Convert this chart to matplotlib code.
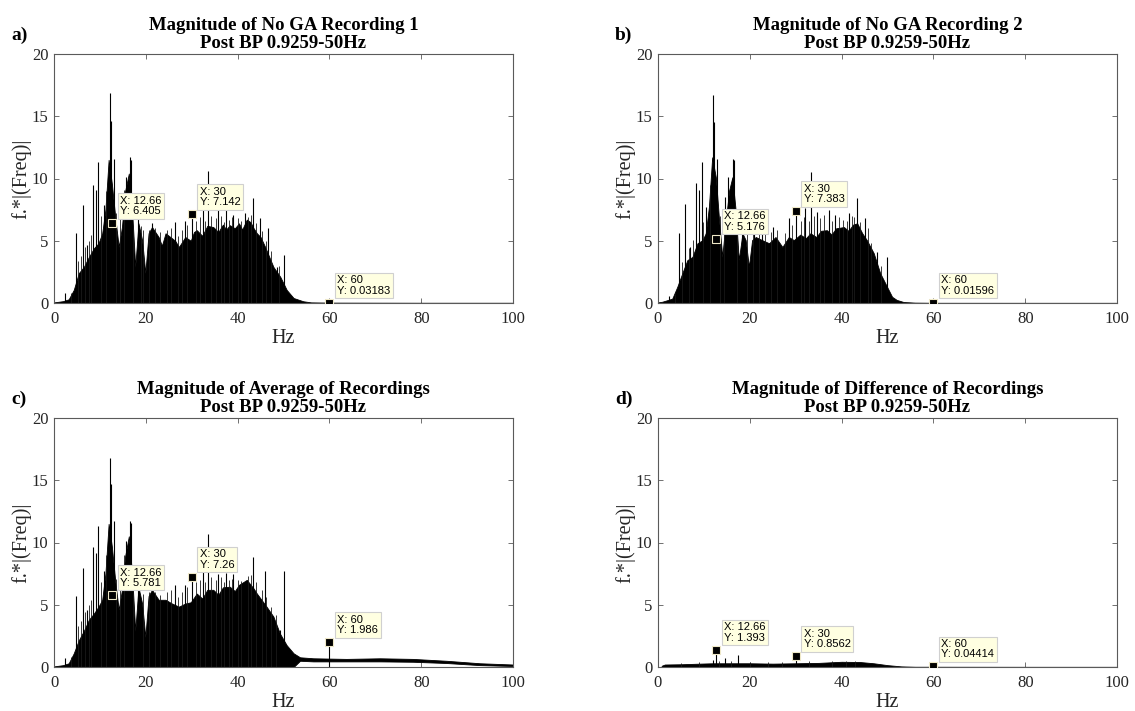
import matplotlib
matplotlib.use('Agg')
import matplotlib.pyplot as plt

plt.rcParams['font.family'] = ['Liberation Serif', 'DejaVu Serif']

# datatip frequencies, shared by all four panels
TIP_HZ = [12.66, 30, 60]

# --- a) recording 1 ---
A_ENV_HZ = [0, 1.0, 2.0, 3.2, 4.3, 5.4, 6.5, 7.6, 8.7, 9.7, 10.5, 11.2, 11.9, 12.6, 13.4, 14.1,
            14.8, 15.5, 16.3, 17.0, 17.7, 18.4, 19.2, 19.9, 20.6, 21.35, 22.8, 23.5, 24.3, 25.7,
            26.4, 27.2, 28.6, 29.8, 30.5, 31.1, 32.3, 33.4, 34.7, 35.8, 36.8, 37.5, 38.3, 39.4,
            40.3, 41.0, 42.0, 42.8, 43.5, 44.2, 45.0, 46.0, 47.8, 49.3, 50.7, 52.2, 54.3, 56,
            60, 80, 100]
A_ENV_MAG = [0.05, 0.1, 0.15, 0.3, 1.05, 2.4, 2.9, 3.7, 4.4, 4.8, 5.6, 7.5, 11.5, 9.6, 6.7, 4.5,
             6.1, 9.0, 10.4, 7.5, 2.9, 6.4, 5.05, 2.4, 5.6, 6.1, 5.3, 4.6, 5.6, 5.2,
             5.0, 4.5, 5.3, 5.0, 5.7, 5.85, 5.4, 6.2, 6.1, 5.7, 6.3, 5.9, 6.25, 6.0,
             6.4, 5.9, 6.7, 6.5, 6.0, 5.6, 5.3, 4.5, 2.9, 2.1, 1.05, 0.4, 0.14, 0.05,
             0.03, 0.02, 0.02]
A_SPIKE_HZ = [2.47, 4.86, 6.25, 7.2, 8.4, 9.1, 9.66, 10.9, 12.13, 12.5, 13.15, 15.7, 16.5, 16.8,
              18.3, 21.35, 26.4, 28.5, 30, 32.4, 33.5, 35.8, 37.5, 39.1, 41.7, 43.4, 44.9, 46.7,
              48.5, 50.1]
A_SPIKE_MAG = [0.78, 5.65, 7.86, 4.65, 9.5, 9.1, 11.3, 7.9, 16.85, 14.6, 11.6, 10.1, 11.7, 11.5,
               6.8, 6.4, 6.5, 6.55, 7.142, 7.7, 10.6, 7.45, 7.45, 7.1, 7.2, 8.4, 6.8, 6.0,
               2.9, 3.85]
A_FINE_HZ = [3.6, 5.3, 5.8, 6.8, 7.7, 8.0, 10.2, 11.4, 13.6, 14.4, 15.2, 17.3, 19.0, 19.4,
             20.8, 22.0, 23.2, 24.6, 25.5, 27.0, 27.8, 29.0, 31.0, 31.7, 32.9, 34.2, 35.2, 36.3,
             37.0, 38.2, 38.8, 40.0, 40.8, 42.3, 42.9, 44.0, 45.4, 46.2, 47.2, 49.0]
A_FINE_MAG = [0.8, 3.4, 3.8, 4.5, 5.0, 5.5, 7.0, 9.0, 7.2, 8.1, 9.1, 6.0, 6.2, 5.9,
              5.9, 6.0, 5.7, 5.9, 6.0, 5.4, 5.9, 6.3, 6.6, 6.9, 6.6, 7.0, 6.8, 7.0,
              6.5, 6.7, 6.9, 6.8, 6.6, 6.9, 7.1, 6.4, 5.8, 5.0, 4.2, 3.0]
A_TIP_MAG = [6.405, 7.142, 0.03183]

# --- b) recording 2 ---
B_ENV_HZ = [0, 0.9, 3.1, 4.2, 5.3, 6.4, 7.5, 8.6, 9.7, 10.4, 11.1, 11.8, 12.6, 13.3, 14.0, 14.7,
            15.5, 16.2, 16.9, 17.6, 18.4, 19.1, 19.8, 20.5, 21.3, 22.7, 24.2, 25.6, 27.1, 28.5,
            29.6, 31.0, 32.2, 33.2, 34.5, 35.5, 36.8, 37.8, 38.8, 40.5, 41.5, 42.5, 43.4, 44.5,
            45.5, 47.0, 48.4, 49.9, 51.0, 52.0, 53.5, 56, 60, 80, 100]
B_ENV_MAG = [0.05, 0.1, 0.35, 1.3, 2.4, 3.45, 3.7, 4.8, 5.05, 5.6, 7.75, 11.7, 10.1, 6.7, 3.7, 6.4,
             9.05, 10.1, 7.5, 3.45, 5.6, 5.05, 2.9, 5.05, 5.3, 5.05, 4.8, 5.3, 4.5, 5.3,
             5.05, 5.5, 5.2, 5.6, 5.3, 5.8, 5.85, 5.5, 6.0, 6.1, 5.8, 6.3, 6.4, 5.6,
             5.05, 4.0, 2.4, 1.3, 0.5, 0.25, 0.08, 0.03, 0.016, 0.015, 0.015]
B_SPIKE_HZ = [2.3, 4.57, 5.88, 6.9, 8.2, 8.9, 9.5, 10.5, 11.98, 12.27, 12.9, 14.7, 15.25, 16.3,
              16.5, 18.4, 21.0, 22.7, 25.0, 28.5, 30, 32.1, 33.3, 34.6, 37.2, 38.6, 41.7, 43.3,
              45.2, 47.7, 49.9]
B_SPIKE_MAG = [0.6, 5.65, 7.95, 4.5, 9.6, 9.1, 11.3, 7.7, 16.7, 14.5, 11.6, 8.5, 10.1, 11.6,
               11.45, 6.0, 5.9, 5.6, 6.1, 6.8, 7.383, 7.6, 10.55, 7.3, 7.45, 7.05, 7.2, 8.4,
               6.8, 4.1, 3.7]
B_FINE_HZ = [3.6, 5.2, 6.7, 7.7, 9.9, 11.3, 13.5, 14.3, 17.2, 19.3, 20.8, 22.1, 23.4, 24.6,
             26.0, 27.6, 29.2, 31.2, 31.8, 33.0, 34.0, 35.3, 36.2, 37.8, 39.4, 40.3, 41.2, 42.3,
             42.8, 44.1, 45.8, 46.5, 48.5]
B_FINE_MAG = [0.7, 3.3, 4.4, 5.1, 6.5, 9.5, 7.0, 7.5, 5.5, 5.8, 5.6, 5.8, 5.9, 5.7,
              5.9, 5.6, 6.3, 6.6, 6.9, 6.6, 7.0, 6.8, 7.1, 6.6, 6.9, 6.7, 6.6, 7.0,
              6.9, 6.5, 6.0, 4.8, 3.0]
B_TIP_MAG = [5.176, 7.383, 0.01596]

# --- c) average ---
C_ENV_HZ = [0, 1, 2, 3.2, 4.3, 5.4, 6.5, 7.6, 8.7, 9.7, 10.5, 11.2, 11.9, 12.6, 13.4, 14.1,
            14.8, 15.5, 16.3, 17.0, 17.7, 18.4, 19.2, 19.9, 20.6, 21.35, 22.8, 24.3, 25.7, 27.2,
            28.6, 29.8, 31.1, 32.3, 33.4, 34.7, 35.8, 36.8, 38.3, 39.4, 40.3, 42.0, 43.5, 44.2,
            46.3, 47.8, 49.2, 50.7, 52.2, 53.6, 56.5, 63.7, 71.0, 78.2, 85.5, 92.8, 100]
C_ENV_MAG = [0.05, 0.1, 0.15, 0.3, 1.1, 2.15, 2.9, 3.8, 4.3, 4.85, 5.4, 7.5, 11.5, 9.7, 6.7, 4.6,
             6.2, 8.9, 10.5, 7.5, 2.9, 6.4, 5.1, 2.4, 5.7, 6.2, 5.4, 5.4, 5.1, 4.85,
             5.1, 5.2, 5.9, 5.5, 6.2, 6.2, 5.8, 6.4, 6.45, 6.1, 6.6, 7.0, 6.3, 5.9,
             4.85, 4.05, 2.7, 1.75, 1.1, 0.78, 0.7, 0.65, 0.7, 0.65, 0.5, 0.3, 0.2]
C_ENV_LOW = [0, 0, 0, 0, 0, 0, 0, 0, 0, 0, 0, 0, 0, 0, 0, 0,
             0, 0, 0, 0, 0, 0, 0, 0, 0, 0, 0, 0, 0, 0,
             0, 0, 0, 0, 0, 0, 0, 0, 0, 0, 0, 0, 0, 0,
             0, 0, 0, 0, 0, 0.5, 0.45, 0.45, 0.45, 0.42, 0.32, 0.15, 0.08]
C_SPIKE_HZ = [2.47, 4.86, 6.25, 7.2, 8.4, 9.1, 9.66, 10.9, 12.13, 12.5, 13.15, 15.7, 16.5, 16.8,
              18.3, 21.35, 26.4, 28.5, 30, 32.4, 33.5, 35.7, 37.4, 39.1, 43.4, 45.9, 49.2, 50.2, 60]
C_SPIKE_MAG = [0.75, 5.7, 7.95, 4.6, 9.65, 9.15, 11.3, 7.75, 16.8, 14.7, 11.7, 10.15, 11.7, 11.55,
               6.3, 6.3, 6.55, 6.55, 7.26, 7.7, 10.7, 7.5, 7.55, 7.5, 8.8, 7.7, 3.0, 7.7, 1.986]
C_FINE_HZ = [3.6, 5.3, 5.8, 6.8, 7.7, 8.0, 10.2, 11.4, 13.6, 14.4, 15.2, 17.3, 19.4, 20.8,
             22.0, 23.2, 24.6, 25.5, 27.0, 27.8, 29.0, 31.0, 31.7, 32.9, 34.2, 35.2, 36.3, 37.0,
             38.2, 38.8, 40.0, 40.8, 42.3, 42.9, 44.0, 45.4, 46.2, 47.2, 48.3]
C_FINE_MAG = [0.8, 3.3, 3.7, 4.4, 5.0, 5.4, 6.8, 9.0, 7.1, 8.0, 9.0, 5.9, 5.9, 6.0,
              6.0, 5.8, 6.0, 6.2, 5.6, 6.0, 6.4, 6.8, 7.0, 6.8, 7.2, 7.0, 7.2, 6.8,
              7.0, 7.1, 7.0, 6.9, 7.3, 7.4, 6.8, 6.2, 5.6, 4.8, 4.2]
C_TIP_MAG = [5.781, 7.26, 1.986]

# --- d) difference ---
D_ENV_HZ = [0.8, 1.5, 5, 10, 12, 15, 20, 25, 30, 35, 40, 44, 47, 50, 53, 56, 60, 80, 100]
D_ENV_MAG = [0.1, 0.2, 0.22, 0.28, 0.3, 0.3, 0.3, 0.27, 0.3, 0.33, 0.42, 0.4, 0.3, 0.15, 0.05,
             0.02, 0.02, 0.015, 0.015]
D_SPIKE_HZ = [11.9, 12.66, 14.6, 17.5, 30, 60]
D_SPIKE_MAG = [0.55, 1.393, 0.75, 1.0, 0.8562, 0.04414]
D_FINE_HZ = [5, 9, 13.3, 16, 20, 24, 27, 33, 38, 41, 43]
D_FINE_MAG = [0.35, 0.4, 0.5, 0.45, 0.4, 0.38, 0.4, 0.45, 0.5, 0.5, 0.48]
D_TIP_MAG = [1.393, 0.8562, 0.04414]

SUBTITLE = 'Post BP 0.9259-50Hz'
TITLES = ['Magnitude of No GA Recording 1', 'Magnitude of No GA Recording 2',
          'Magnitude of Average of Recordings', 'Magnitude of Difference of Recordings']
LETTERS = ['a)', 'b)', 'c)', 'd)']

W, H = 1135, 711
# axes boxes in pixels: left, top
BOXES = [(54, 54), (658, 54), (54, 418), (658, 418)]
AX_W, AX_H = 459, 249

panels = [
    (A_ENV_HZ, A_ENV_MAG, None, A_SPIKE_HZ, A_SPIKE_MAG, A_FINE_HZ, A_FINE_MAG, A_TIP_MAG),
    (B_ENV_HZ, B_ENV_MAG, None, B_SPIKE_HZ, B_SPIKE_MAG, B_FINE_HZ, B_FINE_MAG, B_TIP_MAG),
    (C_ENV_HZ, C_ENV_MAG, C_ENV_LOW, C_SPIKE_HZ, C_SPIKE_MAG, C_FINE_HZ, C_FINE_MAG, C_TIP_MAG),
    (D_ENV_HZ, D_ENV_MAG, None, D_SPIKE_HZ, D_SPIKE_MAG, D_FINE_HZ, D_FINE_MAG, D_TIP_MAG),
]

fig = plt.figure(figsize=(W / 100, H / 100), dpi=100)
edge = '#5a5a5a'
txt = '#262626'

for i, (env_hz, env_mag, env_low, sp_hz, sp_mag, fn_hz, fn_mag, tip_mag) in enumerate(panels):
    left, top = BOXES[i]
    ax = fig.add_axes([left / W, 1 - (top + AX_H) / H, AX_W / W, AX_H / H])

    low = env_low if env_low is not None else 0
    ax.fill_between(env_hz, low, env_mag, color='black', lw=0.6, zorder=2)
    ax.vlines(fn_hz, 0, fn_mag, color='#1a1a1a', lw=0.6, zorder=2)
    ax.vlines(sp_hz, 0, sp_mag, color='black', lw=0.8, zorder=2)

    # datatips
    ax.plot(TIP_HZ, tip_mag, 's', ms=5.5, mfc='black', mec='#efe9c8', mew=0.8, zorder=5)
    for x, y in zip(TIP_HZ, tip_mag):
        ax.annotate(f'X: {x:g}\nY: {y:g}', (x, y), xytext=(8, 7), textcoords='offset pixels',
                    ha='left', va='bottom', fontsize=8, linespacing=1.05,
                    family=['Liberation Sans', 'DejaVu Sans'], color='black',
                    bbox=dict(boxstyle='square,pad=0.22', fc='#ffffe1', ec='#d0d0d0', lw=0.8),
                    zorder=6)

    ax.set_xlim(0, 100)
    ax.set_ylim(0, 20)
    ax.set_xticks([0, 20, 40, 60, 80, 100])
    ax.set_yticks([0, 5, 10, 15, 20])
    ax.tick_params(direction='in', length=3.6, width=0.6, color=edge, labelcolor=txt,
                   labelsize=12, top=True, right=True)
    ax.tick_params(axis='x', pad=6)
    ax.tick_params(axis='y', pad=4)
    for s in ax.spines.values():
        s.set_color(edge)
        s.set_linewidth(0.8)

    ax.set_title(TITLES[i] + '\n' + SUBTITLE, fontsize=13.5, fontweight='bold', pad=4,
                 linespacing=1.1)
    ax.set_xlabel('Hz', fontsize=14.5, color=txt, labelpad=1)
    ax.set_ylabel('f.*|(Freq)|', fontsize=14.5, color=txt, labelpad=0)

    fig.text((left - 43) / W, 1 - (top - 14) / H, LETTERS[i], fontsize=14,
             fontweight='bold', va='baseline')

fig.savefig('out.png', dpi=100)
